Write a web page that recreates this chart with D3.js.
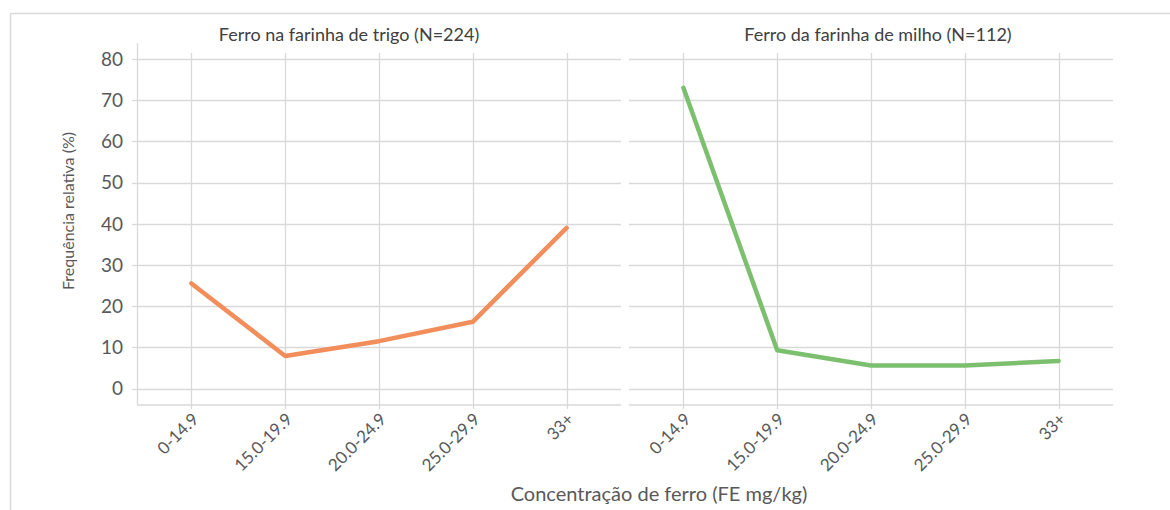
<!DOCTYPE html>
<html>
<head>
<meta charset="utf-8">
<script src="https://cdn.jsdelivr.net/npm/d3@7"></script>
<style>
  body { margin: 0; background: #fff; }
  svg { display: block; font-family: Lato, "Open Sans", sans-serif; }
</style>
</head>
<body>
<div id="chart"></div>
<script>
// Data
const categories = ['0-14.9', '15.0-19.9', '20.0-24.9', '25.0-29.9', '33+'];
const yTicks = [0, 10, 20, 30, 40, 50, 60, 70, 80];
const trigoValues = [25.5, 7.9, 11.5, 16.2, 39.0];
const milhoValues = [73.0, 9.3, 5.6, 5.6, 6.7];
const panelTitles = ['Ferro na farinha de trigo (N=224)', 'Ferro da farinha de milho (N=112)'];

const width = 1170, height = 510;
const gridColor = '#d9d9d9';
const textColor = '#595959';

const svg = d3.select('#chart').append('svg')
    .attr('width', width)
    .attr('height', height);

// outer chart frame (only top and left visible in the crop)
svg.append('path')
    .attr('d', `M10.5,${height} L10.5,13.5 L${width},13.5`)
    .attr('fill', 'none')
    .attr('stroke', gridColor)
    .attr('stroke-width', 1.5);

const y = d3.scaleLinear().domain([-4, 80]).range([405, 59]);

const panels = [
    { title: panelTitles[0], values: trigoValues, color: '#f28e5b', x0: 137, x1: 621, titleX: 349 },
    { title: panelTitles[1], values: milhoValues, color: '#7cc06f', x0: 629, x1: 1113, titleX: 878 }
];

panels.forEach((p, idx) => {
    const x = d3.scalePoint()
        .domain(categories)
        .range([p.x0, p.x1])
        .padding(0.58);

    const g = svg.append('g');

    // horizontal gridlines
    g.selectAll('.hgrid')
        .data(yTicks)
        .enter().append('line')
        .attr('x1', p.x0).attr('x2', p.x1)
        .attr('y1', d => Math.round(y(d)) + 0.5)
        .attr('y2', d => Math.round(y(d)) + 0.5)
        .attr('stroke', gridColor)
        .attr('stroke-width', 1.3);

    // vertical gridlines + ticks below the axis
    g.selectAll('.vgrid')
        .data(categories)
        .enter().append('line')
        .attr('x1', d => Math.round(x(d)) + 0.5)
        .attr('x2', d => Math.round(x(d)) + 0.5)
        .attr('y1', 53).attr('y2', 409)
        .attr('stroke', gridColor)
        .attr('stroke-width', 1.3);

    // bottom axis line
    g.append('line')
        .attr('x1', p.x0).attr('x2', p.x1)
        .attr('y1', 405).attr('y2', 405)
        .attr('stroke', gridColor)
        .attr('stroke-width', 1.5);

    // x tick labels, rotated
    g.selectAll('.xlab')
        .data(categories)
        .enter().append('text')
        .attr('transform', d => `translate(${x(d) + 4},${416}) rotate(-45)`)
        .attr('text-anchor', 'end')
        .attr('dy', '0.35em')
        .style('font-size', '17px')
        .style('fill', textColor)
        .text(d => d);

    // panel title
    g.append('text')
        .attr('x', p.titleX)
        .attr('y', 41)
        .attr('text-anchor', 'middle')
        .style('font-size', '18px')
        .style('fill', '#404040')
        .text(p.title);

    // data line
    const line = d3.line()
        .x((d, i) => x(categories[i]))
        .y(d => y(d));

    g.append('path')
        .datum(p.values)
        .attr('d', line)
        .attr('fill', 'none')
        .attr('stroke', p.color)
        .attr('stroke-width', 4.5)
        .attr('stroke-linecap', 'round')
        .attr('stroke-linejoin', 'round');

    if (idx === 0) {
        // y axis line and ticks
        g.append('line')
            .attr('x1', p.x0 + 0.5).attr('x2', p.x0 + 0.5)
            .attr('y1', 43).attr('y2', 405)
            .attr('stroke', gridColor)
            .attr('stroke-width', 1.3);

        g.selectAll('.ytick')
            .data(yTicks)
            .enter().append('line')
            .attr('x1', p.x0 - 5).attr('x2', p.x0)
            .attr('y1', d => Math.round(y(d)) + 0.5)
            .attr('y2', d => Math.round(y(d)) + 0.5)
            .attr('stroke', gridColor)
            .attr('stroke-width', 1.3);

        g.selectAll('.ylab')
            .data(yTicks)
            .enter().append('text')
            .attr('x', 123)
            .attr('y', d => y(d))
            .attr('dy', '0.36em')
            .attr('text-anchor', 'end')
            .style('font-size', '19px')
            .style('fill', textColor)
            .text(d => d);
    }
});

// axis titles
svg.append('text')
    .attr('transform', 'translate(74,211) rotate(-90)')
    .attr('text-anchor', 'middle')
    .style('font-size', '16px')
    .style('fill', textColor)
    .text('Frequência relativa (%)');

svg.append('text')
    .attr('x', 659)
    .attr('y', 501)
    .attr('text-anchor', 'middle')
    .style('font-size', '20px')
    .style('fill', textColor)
    .text('Concentração de ferro (FE mg/kg)');
</script>
</body>
</html>
